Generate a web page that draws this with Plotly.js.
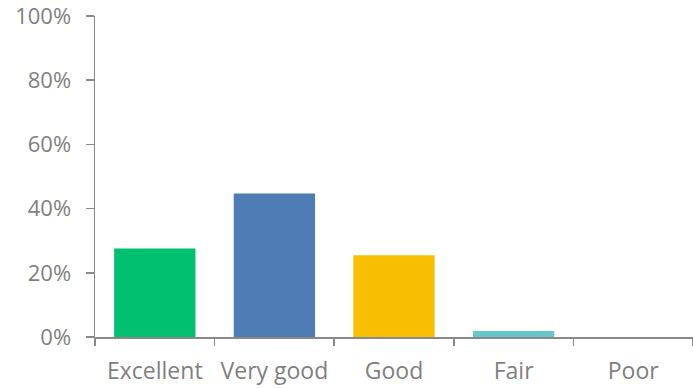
<!DOCTYPE html>
<html>
<head>
<meta charset="utf-8">
<script src="https://cdn.plot.ly/plotly-3.0.1.min.js"></script>
<style>html,body{margin:0;padding:0;background:#fff}#chart{width:693px;height:388px}</style>
</head>
<body>
<div id="chart"></div>
<script>
const categories = ["Excellent", "Very good", "Good", "Fair", "Poor"];
const values = [0.276, 0.447, 0.255, 0.019, 0.0];
const barColors = ["#00BF6F", "#4E7CB5", "#F7BF00", "#66C6C9", "#A0A0A0"];
const yTickVals = [0, 0.2, 0.4, 0.6, 0.8, 1.0];
const yTickText = ["0%", "20%", "40%", "60%", "80%", "100%"];

const axisColor = "#898989";
const textColor = "#7F7F7F";
const fontFamily = "Open Sans";

Plotly.newPlot("chart", [{
  type: "bar",
  x: categories,
  y: values,
  marker: {color: barColors, line: {width: 0}},
  hoverinfo: "none"
}], {
  width: 693, height: 388,
  margin: {l: 95, r: 0, t: 16, b: 51, pad: 0},
  paper_bgcolor: "#fff", plot_bgcolor: "#fff",
  bargap: 0.32,
  showlegend: false,
  font: {family: fontFamily, size: 23, color: textColor},
  xaxis: {
    type: "category",
    showline: true, linecolor: axisColor, linewidth: 1.5,
    ticks: "outside", tickson: "boundaries", ticklen: 7, tickwidth: 1.5, tickcolor: axisColor,
    showgrid: false, zeroline: false,
    ticklabelstandoff: 13,
    ticklabeloverflow: "allow",
    tickfont: {family: fontFamily, size: 23, color: textColor},
    fixedrange: true
  },
  yaxis: {
    range: [0, 1],
    tickvals: yTickVals, ticktext: yTickText,
    showline: true, linecolor: axisColor, linewidth: 1.5,
    ticks: "outside", ticklen: 8, tickwidth: 1.5, tickcolor: axisColor,
    showgrid: false, zeroline: false,
    ticklabelstandoff: 10,
    ticklabeloverflow: "allow",
    tickfont: {family: fontFamily, size: 22, color: textColor},
    fixedrange: true
  }
}, {displayModeBar: false, staticPlot: true});
</script>
</body>
</html>
